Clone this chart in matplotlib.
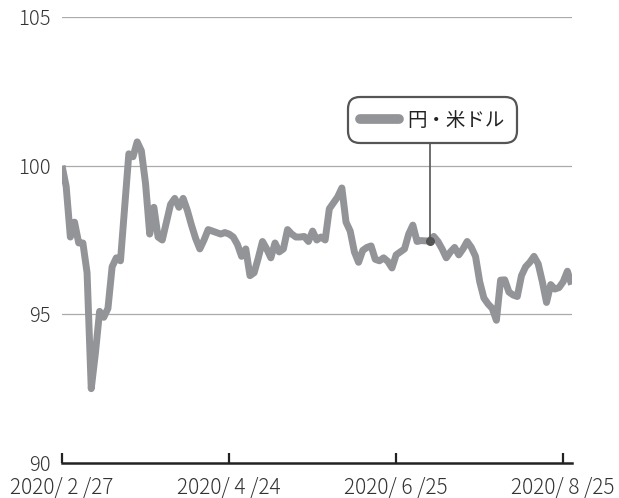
import matplotlib
matplotlib.use("Agg")
import matplotlib.pyplot as plt
from matplotlib.lines import Line2D

plt.rcParams['font.family'] = ['Noto Sans CJK JP', 'DejaVu Sans']

# trading-day index (Japanese business days)
rate = [
    100.0, 99.3, 97.6, 98.1, 97.4, 97.4, 96.4, 92.5, 93.7, 95.1,
    94.9, 95.2, 96.6, 96.9, 96.8, 98.6, 100.4, 100.3, 100.8, 100.5,
    99.4, 97.7, 98.6, 97.6, 97.5, 98.1, 98.7, 98.9, 98.6, 98.9,
    98.5, 98.0, 97.55, 97.2, 97.5, 97.85, 97.8, 97.75, 97.7, 97.75,
    97.7, 97.6, 97.35, 96.95, 97.2, 96.3, 96.4, 96.9, 97.45, 97.2,
    96.9, 97.4, 97.1, 97.2, 97.85, 97.7, 97.6, 97.6, 97.62, 97.45,
    97.8, 97.5, 97.6, 97.5, 98.55, 98.75, 98.95, 99.25, 98.1, 97.8,
    97.1, 96.75, 97.15, 97.25, 97.3, 96.85, 96.8, 96.9, 96.78, 96.56,
    97.0, 97.1, 97.2, 97.7, 98.0, 97.45, 97.48, 97.47, 97.47, 97.62,
    97.45, 97.2, 96.9, 97.1, 97.25, 97.0, 97.2, 97.45, 97.25, 96.95,
    96.1, 95.55, 95.35, 95.2, 94.8, 96.15, 96.16, 95.75, 95.65, 95.6,
    96.3, 96.6, 96.75, 96.95, 96.7, 96.1, 95.4, 96.0, 95.85, 95.9,
    96.1, 96.45, 96.0,
]
days = list(range(len(rate)))

tick_pos = [0, 40, 80, 120]
tick_labels = ["2020/ 2 /27", "2020/ 4 /24", "2020/ 6 /25", "2020/ 8 /25"]
y_ticks = [90, 95, 100, 105]
marker_day = 88

line_color = "#939498"
dark = "#555555"
text_color = "#333333"

fig = plt.figure(figsize=(6.19, 4.98), dpi=100)
ax = fig.add_axes([62 / 619, 35 / 498, 510 / 619, 446 / 498])

for v in [95, 100, 105]:
    ax.axhline(v, color="#aaaaaa", lw=0.9, zorder=1)

ax.plot(days, rate, color=line_color, lw=5.0, solid_joinstyle="round",
        solid_capstyle="butt", zorder=3)

# leader line + dot for the legend label
ax.plot([marker_day, marker_day], [rate[marker_day], 100.95], color=dark,
        lw=1.2, zorder=4)
ax.plot([marker_day], [rate[marker_day]], "o", color=dark, ms=5.5, zorder=5)

ax.set_xlim(0, 122.1)
ax.set_ylim(90, 105)

ax.set_xticks(tick_pos)
ax.set_xticklabels(tick_labels, fontsize=15, color=text_color, fontweight="light")
ax.set_yticks(y_ticks)
ax.set_yticklabels([str(v) for v in y_ticks], fontsize=14.5, color=text_color,
                   fontweight="light")
ax.tick_params(axis="x", direction="in", length=7, width=1.6, color="#222222", pad=10)
ax.tick_params(axis="y", length=0, pad=8)

for s in ["top", "right", "left"]:
    ax.spines[s].set_visible(False)
ax.spines["bottom"].set_linewidth(1.8)
ax.spines["bottom"].set_color("#222222")

handle = Line2D([], [], color=line_color, lw=7, solid_capstyle="round")
leg = fig.legend([handle], ["円・米ドル"], loc="center",
                 bbox_to_anchor=(432.5 / 619, 1 - 120 / 498),
                 bbox_transform=fig.transFigure, fontsize=14, handlelength=2.0,
                 handletextpad=0.4, borderpad=0.45, fancybox=True, framealpha=1)
frame = leg.get_frame()
frame.set_edgecolor(dark)
frame.set_linewidth(1.6)
frame.set_boxstyle("round,pad=0.2,rounding_size=0.6")
for t in leg.get_texts():
    t.set_color("#222222")

fig.savefig("out.png", dpi=100)
